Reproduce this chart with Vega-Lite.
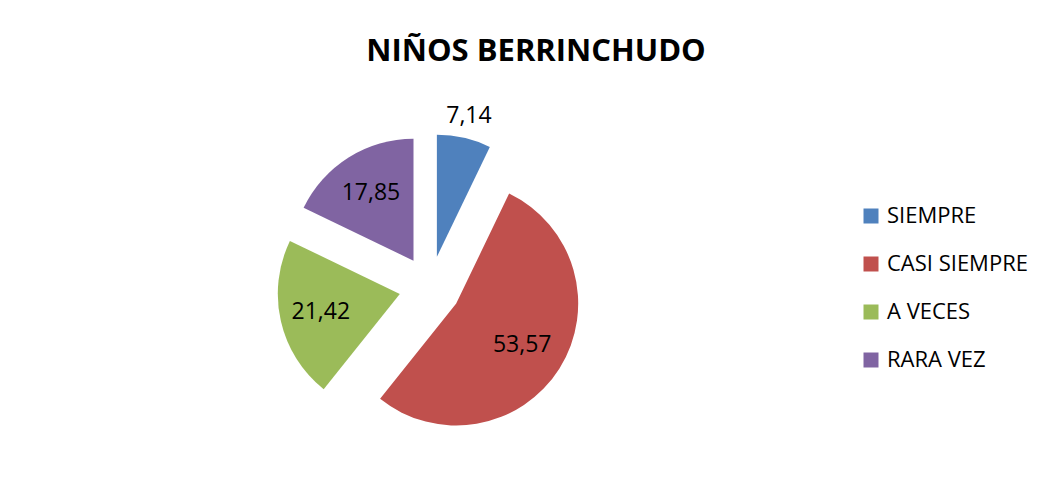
{
  "$schema": "https://vega.github.io/schema/vega-lite/v6.json",
  "autosize": "none",
  "width": 860,
  "height": 406,
  "padding": {"left": 0, "top": 84, "right": 195, "bottom": 0},
  "background": "white",
  "title": {
    "text": "NIÑOS BERRINCHUDO",
    "anchor": "middle",
    "frame": "group",
    "dx": 106,
    "offset": 16,
    "font": "Open Sans",
    "fontSize": 31,
    "fontWeight": "bold",
    "color": "#000000"
  },
  "data": {
    "values": [
      {"cat": "SIEMPRE", "pct": 7.14, "n": 1},
      {"cat": "CASI SIEMPRE", "pct": 53.57, "n": 2},
      {"cat": "A VECES", "pct": 21.42, "n": 3},
      {"cat": "RARA VEZ", "pct": 17.85, "n": 4}
    ]
  },
  "encoding": {
    "theta": {"field": "pct", "type": "quantitative", "stack": true},
    "order": {"field": "n", "type": "quantitative"}
  },
  "layer": [
    {
      "mark": {"type": "arc", "outerRadius": 122, "xOffset": 6.9, "yOffset": -30.2},
      "encoding": {
        "color": {"field": "cat", "type": "nominal", "sort": ["SIEMPRE", "CASI SIEMPRE", "A VECES", "RARA VEZ"],
          "scale": {"domain": ["SIEMPRE", "CASI SIEMPRE", "A VECES", "RARA VEZ"], "range": ["#4F81BD", "#C0504D", "#9BBB59", "#8064A2"]},
          "legend": {"title": null, "orient": "none", "legendX": 860, "legendY": 121, "symbolType": "square", "symbolSize": 225, "symbolStrokeWidth": 0, "symbolOpacity": 1, "labelFont": "Open Sans", "labelFontSize": 22, "labelColor": "#000000", "labelOffset": 5, "rowPadding": 26}},
        "opacity": {"condition": {"test": "datum.cat === 'SIEMPRE'", "value": 1}, "value": 0}
      }
    },
    {
      "mark": {"type": "arc", "outerRadius": 122, "xOffset": 26.2, "yOffset": 16.5},
      "encoding": {
        "color": {"field": "cat", "type": "nominal", "sort": ["SIEMPRE", "CASI SIEMPRE", "A VECES", "RARA VEZ"]},
        "opacity": {"condition": {"test": "datum.cat === 'CASI SIEMPRE'", "value": 1}, "value": 0}
      }
    },
    {
      "mark": {"type": "arc", "outerRadius": 122, "xOffset": -30.2, "yOffset": 6.9},
      "encoding": {
        "color": {"field": "cat", "type": "nominal", "sort": ["SIEMPRE", "CASI SIEMPRE", "A VECES", "RARA VEZ"]},
        "opacity": {"condition": {"test": "datum.cat === 'A VECES'", "value": 1}, "value": 0}
      }
    },
    {
      "mark": {"type": "arc", "outerRadius": 122, "xOffset": -16.5, "yOffset": -26.3},
      "encoding": {
        "color": {"field": "cat", "type": "nominal", "sort": ["SIEMPRE", "CASI SIEMPRE", "A VECES", "RARA VEZ"]},
        "opacity": {"condition": {"test": "datum.cat === 'RARA VEZ'", "value": 1}, "value": 0}
      }
    },
    {
      "mark": {"type": "text", "radius": 144, "xOffset": 6.9, "yOffset": -30.2, "font": "Open Sans", "fontSize": 23, "color": "#000000", "align": "center", "baseline": "middle"},
      "encoding": {
        "detail": {"field": "cat", "type": "nominal"},
        "text": {"field": "pct", "type": "quantitative", "format": ".2f"},
        "opacity": {"condition": {"test": "datum.cat === 'SIEMPRE'", "value": 1}, "value": 0}
      }
    },
    {
      "mark": {"type": "text", "radius": 78, "xOffset": 26.2, "yOffset": 16.5, "font": "Open Sans", "fontSize": 23, "color": "#000000", "align": "center", "baseline": "middle"},
      "encoding": {
        "detail": {"field": "cat", "type": "nominal"},
        "text": {"field": "pct", "type": "quantitative", "format": ".2f"},
        "opacity": {"condition": {"test": "datum.cat === 'CASI SIEMPRE'", "value": 1}, "value": 0}
      }
    },
    {
      "mark": {"type": "text", "radius": 81, "xOffset": -30.2, "yOffset": 6.9, "font": "Open Sans", "fontSize": 23, "color": "#000000", "align": "center", "baseline": "middle"},
      "encoding": {
        "detail": {"field": "cat", "type": "nominal"},
        "text": {"field": "pct", "type": "quantitative", "format": ".2f"},
        "opacity": {"condition": {"test": "datum.cat === 'A VECES'", "value": 1}, "value": 0}
      }
    },
    {
      "mark": {"type": "text", "radius": 80, "xOffset": -16.5, "yOffset": -26.3, "font": "Open Sans", "fontSize": 23, "color": "#000000", "align": "center", "baseline": "middle"},
      "encoding": {
        "detail": {"field": "cat", "type": "nominal"},
        "text": {"field": "pct", "type": "quantitative", "format": ".2f"},
        "opacity": {"condition": {"test": "datum.cat === 'RARA VEZ'", "value": 1}, "value": 0}
      }
    }
  ],
  "config": {
    "view": {"stroke": null},
    "locale": {"number": {"decimal": ",", "thousands": ".", "grouping": [3], "currency": ["", " €"]}}
  }
}
